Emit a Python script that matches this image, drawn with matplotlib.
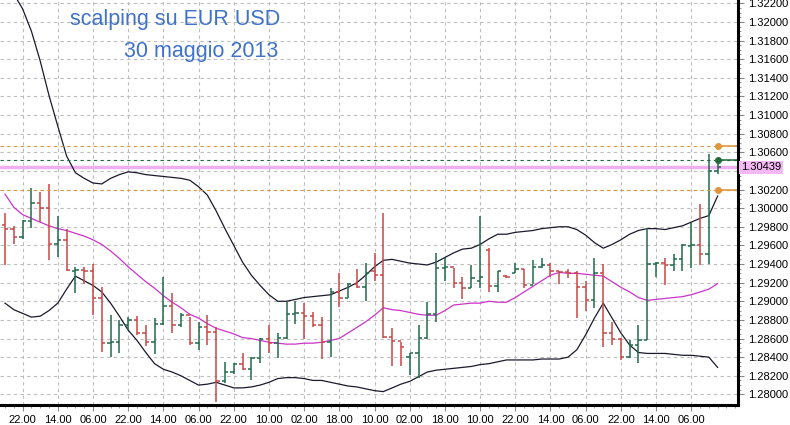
import matplotlib
matplotlib.use("Agg")
import matplotlib.pyplot as plt
import numpy as np

opens = [1.2982,1.2978,1.2969,1.2986,1.3006,1.3000,1.2961,1.2966,1.2932,1.2934,
         1.2932,1.2903,1.2855,1.2856,1.2875,1.2880,1.2866,1.2856,1.2876,1.2895,
         1.2874,1.2885,1.2855,1.2872,1.2867,1.2814,1.2824,1.2833,1.2827,1.2839,
         1.2860,1.2855,1.2861,1.2886,1.2887,1.2884,1.2875,1.2856,1.2910,1.2903,
         1.2919,1.2915,1.2933,1.2928,1.2862,1.2857,1.2840,1.2844,1.2861,1.2886,
         1.2936,1.2937,1.2920,1.2914,1.2922,1.2955,1.2916,1.2927,1.2930,1.2935,
         1.2918,1.2937,1.2939,1.2933,1.2931,1.2930,1.2915,1.2901,1.2930,1.2866,
         1.2860,1.2840,1.2853,1.2858,1.2940,1.2941,1.2939,1.2945,1.2959,1.2960,
         1.2951,1.3040]
highs = [1.2995,1.2981,1.2987,1.3022,1.3017,1.3026,1.2992,1.2978,1.2937,1.2937,
         1.2940,1.2915,1.2885,1.2880,1.2883,1.2884,1.2875,1.2882,1.2926,1.2909,
         1.2887,1.2883,1.2878,1.2885,1.2872,1.2835,1.2834,1.2844,1.2840,1.2861,
         1.2874,1.2866,1.2899,1.2900,1.2898,1.2888,1.2883,1.2914,1.2930,1.2920,
         1.2935,1.2941,1.2952,1.2995,1.2871,1.2856,1.2844,1.2874,1.2899,1.2952,
         1.2946,1.2936,1.2926,1.2939,1.2992,1.2957,1.2933,1.2928,1.2941,1.2935,
         1.2944,1.2946,1.2941,1.2933,1.2935,1.2932,1.2922,1.2946,1.2940,1.2878,
         1.2861,1.2858,1.2874,1.2979,1.2942,1.2947,1.2951,1.2961,1.2984,1.3004,
         1.3058,1.3052]
lows = [1.2939,1.2962,1.2967,1.2979,1.2985,1.2944,1.2948,1.2933,1.2909,1.2919,
        1.2885,1.2845,1.2840,1.2844,1.2869,1.2864,1.2852,1.2843,1.2874,1.2866,
        1.2872,1.2853,1.2848,1.2853,1.2792,1.2812,1.2822,1.2826,1.2816,1.2834,
        1.2844,1.2839,1.2860,1.2876,1.2859,1.2872,1.2838,1.2840,1.2894,1.2903,
        1.2914,1.2900,1.2922,1.2861,1.2830,1.2831,1.2821,1.2818,1.2860,1.2878,
        1.2922,1.2914,1.2902,1.2914,1.2914,1.2910,1.2910,1.2925,1.2930,1.2914,
        1.2919,1.2936,1.2926,1.2919,1.2925,1.2882,1.2890,1.2893,1.2851,1.2853,
        1.2837,1.2839,1.2834,1.2858,1.2926,1.2917,1.2933,1.2933,1.2936,1.2939,
        1.2940,1.3037]
closes = [1.2978,1.2969,1.2986,1.3006,1.3000,1.2961,1.2966,1.2934,1.2934,1.2932,
          1.2903,1.2855,1.2856,1.2875,1.2880,1.2866,1.2856,1.2876,1.2895,1.2874,
          1.2885,1.2855,1.2872,1.2867,1.2814,1.2824,1.2833,1.2827,1.2839,1.2860,
          1.2855,1.2861,1.2886,1.2887,1.2884,1.2875,1.2856,1.2910,1.2903,1.2919,
          1.2915,1.2930,1.2928,1.2862,1.2857,1.2851,1.2844,1.2861,1.2886,1.2936,
          1.2937,1.2920,1.2914,1.2925,1.2926,1.2916,1.2932,1.2926,1.2935,1.2918,
          1.2937,1.2939,1.2933,1.2931,1.2930,1.2915,1.2901,1.2930,1.2866,1.2860,
          1.2840,1.2853,1.2858,1.2940,1.2941,1.2939,1.2945,1.2960,1.2960,1.2951,
          1.3040,1.30439]
upper_band = [1.3240,1.3230,1.3214,1.3190,1.3158,1.3121,1.3088,1.3056,1.3038,1.3032,
              1.3027,1.3026,1.3032,1.3036,1.3039,1.3038,1.3036,1.3035,1.3034,1.3033,
              1.3032,1.3030,1.3023,1.3014,1.2997,1.2978,1.2960,1.2942,1.2928,1.2917,
              1.2907,1.2900,1.2900,1.2902,1.2904,1.2905,1.2906,1.2907,1.2911,1.2915,
              1.2920,1.2928,1.2937,1.2944,1.2945,1.2943,1.2941,1.2940,1.2939,1.2942,
              1.2947,1.2952,1.2956,1.2957,1.2961,1.2967,1.2972,1.2972,1.2974,1.2975,
              1.2976,1.2978,1.2979,1.2980,1.2980,1.2977,1.2971,1.2963,1.2957,1.2961,
              1.2966,1.2972,1.2976,1.2978,1.2978,1.2977,1.2979,1.2981,1.2985,1.2989,
              1.2992,1.3013]
middle_band = [1.3015,1.3001,1.2993,1.2989,1.2985,1.2981,1.2978,1.2976,1.2973,1.2970,
               1.2966,1.2961,1.2954,1.2946,1.2937,1.2929,1.2921,1.2914,1.2906,1.2899,
               1.2893,1.2886,1.2882,1.2876,1.2871,1.2868,1.2865,1.2861,1.2860,1.2858,
               1.2856,1.2855,1.2854,1.2854,1.2855,1.2855,1.2856,1.2858,1.2860,1.2866,
               1.2872,1.2878,1.2885,1.2893,1.2891,1.2890,1.2888,1.2886,1.2885,1.2885,
               1.2890,1.2896,1.2897,1.2898,1.2898,1.2900,1.2899,1.2899,1.2904,1.2910,
               1.2916,1.2922,1.2928,1.2931,1.2930,1.2930,1.2929,1.2928,1.2927,1.2921,
               1.2915,1.2910,1.2904,1.2901,1.2902,1.2903,1.2904,1.2905,1.2907,1.2910,
               1.2913,1.2919]
lower_band = [1.2898,1.2891,1.2887,1.2883,1.2884,1.2890,1.2898,1.2913,1.2927,1.2922,
              1.2917,1.2910,1.2898,1.2884,1.2869,1.2858,1.2845,1.2833,1.2827,1.2824,
              1.2820,1.2815,1.2810,1.2811,1.2813,1.2810,1.2807,1.2807,1.2808,1.2810,
              1.2813,1.2817,1.2818,1.2818,1.2817,1.2815,1.2815,1.2813,1.2811,1.2809,
              1.2808,1.2806,1.2804,1.2803,1.2807,1.2811,1.2814,1.2819,1.2824,1.2826,
              1.2827,1.2828,1.2829,1.2830,1.2832,1.2833,1.2835,1.2837,1.2837,1.2837,
              1.2837,1.2838,1.2838,1.2838,1.2840,1.2848,1.2864,1.2882,1.2898,1.2882,
              1.2866,1.2853,1.2845,1.2844,1.2844,1.2844,1.2843,1.2842,1.2842,1.2841,
              1.2840,1.2829]
time_labels = ["22.00","14.00","06.00","22.00","14.00","06.00","22.00","10.00","02.00","18.00",
               "10.00","02.00","18.00","10.00","22.00","14.00","06.00","22.00","14.00","06.00"]
orange_levels = [1.3067, 1.3020]
green_level = 1.3052
last_price = 1.30439
title_lines = ["scalping su EUR USD", "30 maggio 2013"]

n = len(closes)
idx = np.arange(n)
RED = "#c84646"
GREEN = "#1f6b4c"
ORANGE = "#e0953a"

fig = plt.figure(figsize=(7.9, 4.25), dpi=100)
ax = fig.add_axes([0.0, 0.047, 0.934, 0.953])
ax.set_xlim(-0.57, 83.3)
ax.set_ylim(1.27886, 1.32235)

yt = np.round(np.arange(1.2800, 1.3221, 0.002), 4)
ax.set_yticks(yt)
ax.set_yticklabels(["" if abs(v - 1.304) < 1e-6 else f"{v:.5f}" for v in yt])
xt = np.arange(2, 2 + 4 * len(time_labels), 4)[:len(time_labels)]
ax.set_xticks(xt)
ax.set_xticklabels(time_labels)
ax.set_xticks(np.arange(0, 84), minor=True)
ax.set_yticks(np.arange(1.2800, 1.3221, 0.0005), minor=True)
ax.grid(True, which="major", color="#bdbdbd", linestyle=(0, (3, 3)), linewidth=0.8)
ax.set_axisbelow(True)

ax.yaxis.tick_right()
for s in ["left", "top"]:
    ax.spines[s].set_visible(False)
for s in ["right", "bottom"]:
    ax.spines[s].set_linewidth(2.2)
ax.tick_params(axis="both", which="major", labelsize=8, length=4, width=0.8, color="#888888")
ax.tick_params(axis="both", which="minor", length=2, width=0.6, color="#888888")
for lab in ax.get_xticklabels() + ax.get_yticklabels():
    lab.set_fontfamily("Liberation Sans")

ax.plot(idx, upper_band, color="#1a1a2e", lw=0.9)
ax.plot(idx, lower_band, color="#1a1a2e", lw=0.9)
ax.plot(idx, middle_band, color="#cc33cc", lw=0.9)

tw = 0.38
for i in range(n):
    c = GREEN if closes[i] >= opens[i] else RED
    ax.vlines(i, lows[i], highs[i], color=c, lw=1.1)
    ax.hlines(opens[i], i - tw, i, color=c, lw=1.1)
    ax.hlines(closes[i], i, i + tw, color=c, lw=1.1)

last = idx[-1]
for lv in orange_levels:
    ax.axhline(lv, color=ORANGE, lw=0.8, ls=(0, (3, 3)))
    ax.hlines(lv, last, 83.3, color=ORANGE, lw=1.1)
    ax.plot(last, lv, "o", color=ORANGE, ms=4)
ax.axhline(green_level, color="#1f6b3a", lw=0.8, ls=(0, (3, 3)))
ax.hlines(green_level, last, 83.3, color="#1f6b3a", lw=1.1)
ax.plot(last, green_level, "o", color="#1f6b3a", ms=4)
ax.axhline(last_price, color="#f0b0f0", lw=2.5, zorder=0.5)
ax.text(1.004, last_price, f"{last_price:.5f}", transform=ax.get_yaxis_transform(),
        fontsize=8, va="center", ha="left", fontfamily="Liberation Sans",
        bbox=dict(boxstyle="square,pad=0.15", fc="#f4b8f4", ec="none"), clip_on=False)

fig.text(0.222, 0.955, title_lines[0], color="#3f72c8", fontsize=15.5,
         ha="center", va="center", fontfamily="Liberation Sans")
fig.text(0.255, 0.878, title_lines[1], color="#3f72c8", fontsize=15.5,
         ha="center", va="center", fontfamily="Liberation Sans")

fig.savefig("out.png", dpi=100, facecolor="white")
